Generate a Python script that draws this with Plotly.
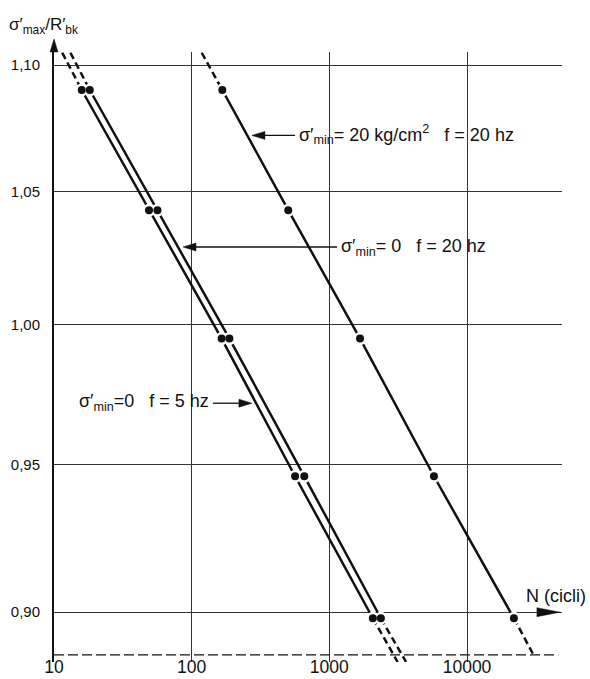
import numpy as np
import plotly.graph_objects as go

# ---------------- data ----------------
stress_ratio = [1.090, 1.043, 0.995, 0.946, 0.898]          # sigma'max / R'bk
n_s0_f5 = [15.9, 49.0, 165.0, 564.0, 2070.0]                # sigma'min = 0, f = 5 hz
n_s0_f20 = [18.2, 56.4, 188.0, 658.0, 2367.0]               # sigma'min = 0, f = 20 hz
n_s20_f20 = [167.0, 503.0, 1671.0, 5754.0, 21900.0]         # sigma'min = 20 kg/cm2, f = 20 hz

x_tick_vals = [10, 100, 1000, 10000]
x_tick_text = ["10", "100", "1000", "10000"]
y_tick_vals = [0.90, 0.95, 1.00, 1.05, 1.10]
y_tick_text = ["0,90", "0,95", "1,00", "1,05", "1,10"]

# extrapolated (dashed) part of each curve
ext_top = 1.105
ext_bottom = [0.8837, 0.8837, 0.886]
base_line_y = 0.886
base_line_x = [10, 46000]

# axis ranges
x_log_range = [1.0, 4.69]
y_lim = [0.8837, 1.1053]
y_log_range = [np.log10(y_lim[0]), np.log10(y_lim[1])]

FONT = "Liberation Sans, Arial, sans-serif"
BLACK = "#111111"


def px_(v):
    return (np.log10(v) - x_log_range[0]) / (x_log_range[1] - x_log_range[0])


def py_(v):
    return (np.log10(v) - y_log_range[0]) / (y_log_range[1] - y_log_range[0])


fig = go.Figure()

# dashed base line
fig.add_trace(go.Scatter(x=base_line_x, y=[base_line_y, base_line_y], mode="lines",
                         line=dict(color=BLACK, width=1.3, dash="10px,4px"),
                         hoverinfo="skip"))

series = [n_s0_f5, n_s0_f20, n_s20_f20]
for n_vals, yb in zip(series, ext_bottom):
    ly = np.log10(stress_ratio)
    lx = np.log10(n_vals)
    coef = np.polyfit(ly, lx, 1)
    f = lambda y: 10 ** np.polyval(coef, np.log10(y))
    # solid part through measured points
    fig.add_trace(go.Scatter(x=n_vals, y=stress_ratio, mode="lines",
                             line=dict(color=BLACK, width=2.5), hoverinfo="skip"))
    # dashed extrapolations
    fig.add_trace(go.Scatter(x=[f(ext_top), n_vals[0]], y=[ext_top, stress_ratio[0]],
                             mode="lines", line=dict(color=BLACK, width=2.5, dash="7px,4px"),
                             hoverinfo="skip"))
    fig.add_trace(go.Scatter(x=[n_vals[-1], f(yb)], y=[stress_ratio[-1], yb],
                             mode="lines", line=dict(color=BLACK, width=2.5, dash="7px,4px"),
                             hoverinfo="skip"))

all_x = n_s0_f5 + n_s0_f20 + n_s20_f20
all_y = stress_ratio * 3
# white halos (gaps in the lines around the dots)
fig.add_trace(go.Scatter(x=all_x, y=all_y, mode="markers",
                         marker=dict(color="white", size=13), hoverinfo="skip"))
fig.add_trace(go.Scatter(x=all_x, y=all_y, mode="markers",
                         marker=dict(color=BLACK, size=8), hoverinfo="skip"))

# ---------------- arrows ----------------
shapes = []


def arrow(tip_x, tip_y, direction, shaft, head_len=13, hw=4):
    ax, ay = px_(tip_x), py_(tip_y)
    s = 1 if direction == "left" else -1   # shaft goes to the opposite side
    if shaft > 0:
        shapes.append(dict(type="line", xref="paper", yref="paper",
                           xsizemode="pixel", ysizemode="pixel",
                           xanchor=ax, yanchor=ay, x0=s * head_len * 0.8, x1=s * shaft,
                           y0=0, y1=0, line=dict(color=BLACK, width=1.3)))
    shapes.append(dict(type="path", xref="paper", yref="paper",
                       xsizemode="pixel", ysizemode="pixel", xanchor=ax, yanchor=ay,
                       path=f"M0,0 L{s*head_len},{hw} L{s*head_len},{-hw} Z",
                       fillcolor=BLACK, line=dict(color=BLACK, width=0.5)))


arrow(274, 1.072, "left", 43)
arrow(86.5, 1.029, "left", 154)
arrow(274, 0.9717, "right", 39)
# x-axis arrow head on the 0,90 line
arrow(47300, 0.90, "right", 0, head_len=23, hw=4.5)
# y-axis arrow head
shapes.append(dict(type="path", xref="paper", yref="paper", xsizemode="pixel",
                   ysizemode="pixel", xanchor=0, yanchor=1,
                   path="M-4,0 L0,13 L4,0 Z", fillcolor=BLACK,
                   line=dict(color=BLACK, width=0.5)))

NB = "\u00a0"
annotations = [
    dict(text="σ′<sub>max</sub>/R′<sub>bk</sub>", x=-0.092, y=1.042, xanchor="left",
         yanchor="middle", size=17),
    dict(text="N (cicli)", x=1.051, y=0.108, xanchor="right", yanchor="middle", size=18),
    dict(text=f"σ′<sub>min</sub>= 20 kg/cm<sup>2</sup>{NB*3}f = 20 hz", x=0.478, y=0.864,
         xanchor="left", yanchor="middle", size=18),
    dict(text=f"σ′<sub>min</sub>= 0{NB*3}f = 20 hz", x=0.561, y=0.680,
         xanchor="left", yanchor="middle", size=18),
    dict(text=f"σ′<sub>min</sub>=0{NB*3}f = 5 hz", x=0.046, y=0.4246,
         xanchor="left", yanchor="middle", size=18),
]
for a in annotations:
    sz = a.pop("size")
    a.update(xref="paper", yref="paper", showarrow=False,
             font=dict(family=FONT, size=sz, color=BLACK))

fig.update_layout(
    width=590, height=679,
    margin=dict(l=54, r=28, t=52, b=17),
    paper_bgcolor="white", plot_bgcolor="white",
    showlegend=False,
    shapes=shapes,
    annotations=annotations,
    xaxis=dict(type="log", range=x_log_range, tickvals=x_tick_vals, ticktext=x_tick_text,
               showgrid=True, gridcolor="#333333", gridwidth=1, showline=False,
               zeroline=False, ticks="", ticklabelstandoff=-8,
               tickfont=dict(family=FONT, size=17.5, color=BLACK),
               automargin=False),
    yaxis=dict(type="log", range=y_log_range, tickvals=y_tick_vals, ticktext=y_tick_text,
               showgrid=True, gridcolor="#333333", gridwidth=1, showline=True,
               linecolor=BLACK, linewidth=2, zeroline=False, ticks="",
               ticklabelstandoff=9, tickfont=dict(family=FONT, size=15, color=BLACK),
               automargin=False),
)

fig.write_html("out.html",
               config={"displayModeBar": False},
               post_script="document.body.style.margin='0px';"
                           "document.body.style.overflow='hidden';")
